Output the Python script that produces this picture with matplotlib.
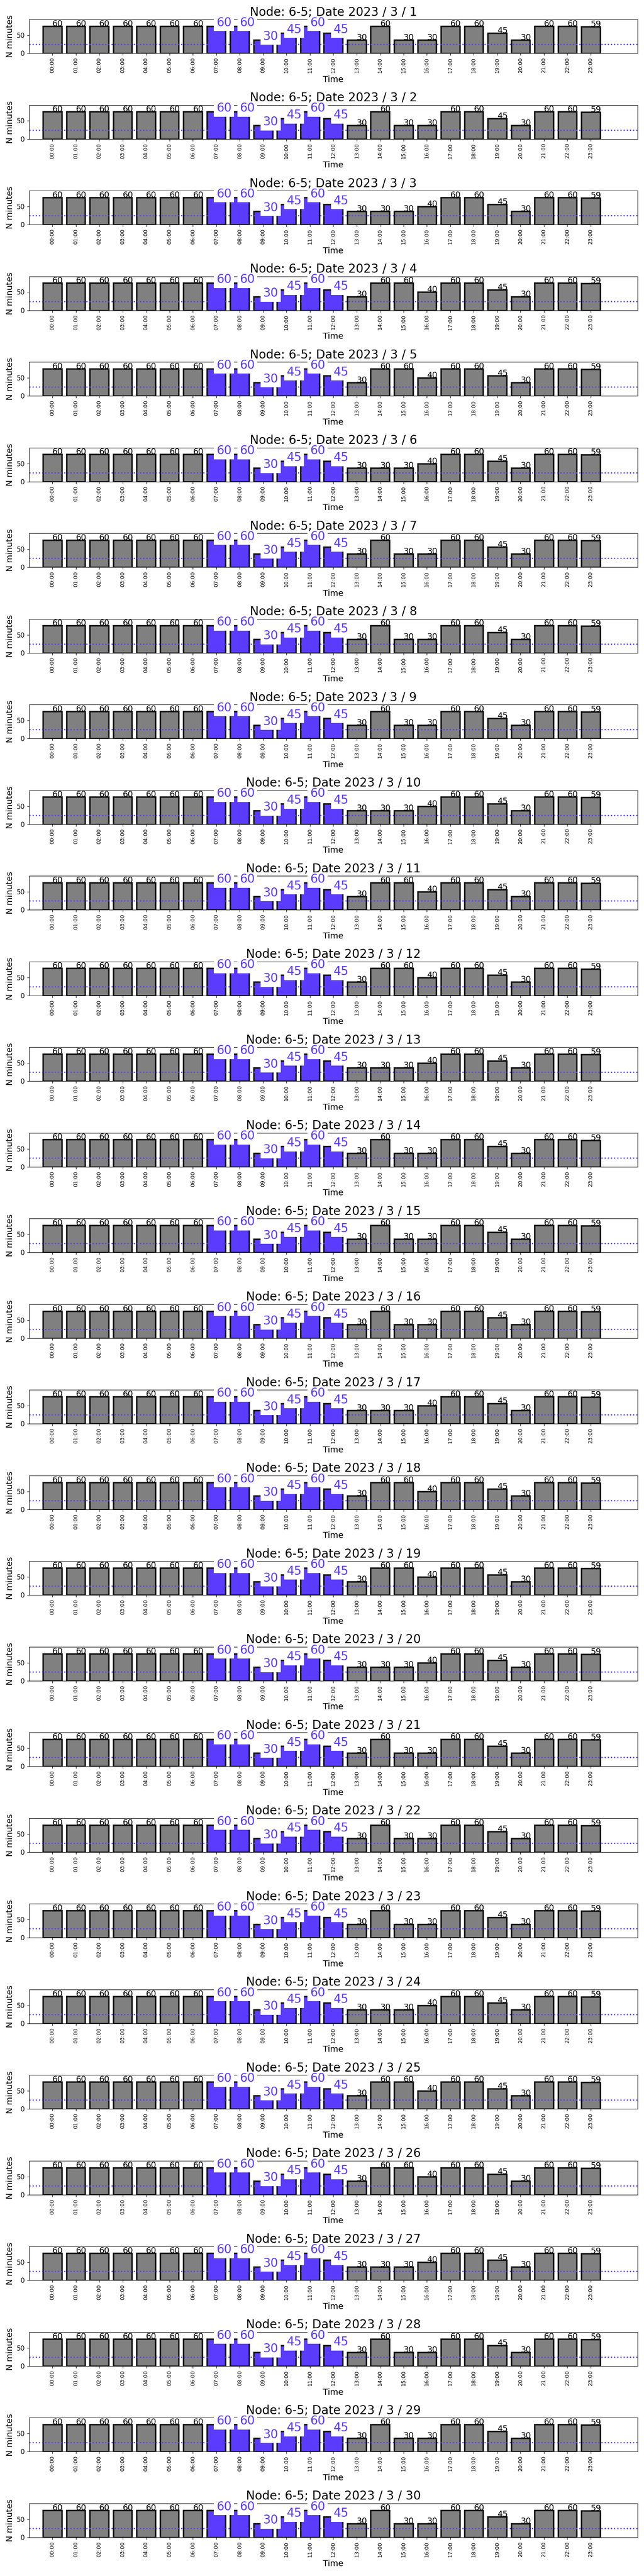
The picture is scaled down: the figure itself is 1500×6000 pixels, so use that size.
import numpy as np
import matplotlib.pyplot as plt

# hourly labels and days
hours = ["00:00", "01:00", "02:00", "03:00", "04:00", "05:00", "06:00", "07:00",
         "08:00", "09:00", "10:00", "11:00", "12:00", "13:00", "14:00", "15:00",
         "16:00", "17:00", "18:00", "19:00", "20:00", "21:00", "22:00", "23:00"]
days = list(range(1, 31))

# minutes per hour, 00:00 - 12:00 (same every day)
morning = [60, 60, 60, 60, 60, 60, 60, 60, 60, 30, 45, 60, 45]
# 13:00 - 16:00 changes with the day
afternoon = {
    "A": [30, 60, 30, 30],
    "B": [30, 30, 30, 40],
    "C": [30, 60, 60, 40],
}
# 17:00 - 23:00
evening = [60, 60, 45, 30, 60, 60, 59]
day_pattern = "AABCCBAAABCCBAAABCCBAAABCCBAAA"

highlight_hours = [7, 8, 9, 10, 11, 12]
threshold = 20
scale = 1.25

blue = "#5b3cff"

fig, axes = plt.subplots(30, 1, figsize=(15, 60), dpi=100)
fig.subplots_adjust(left=0.045, right=0.99, top=0.9925, bottom=0.015, hspace=1.52)

x = np.arange(24)
for ax, day, pat in zip(axes, days, day_pattern):
    minutes = morning + afternoon[pat] + evening
    colors = [blue if h in highlight_hours else "gray" for h in x]
    ax.bar(x, np.array(minutes) * scale, width=0.8, color=colors,
           edgecolor="#111111", linewidth=2.5)
    ax.axhline(threshold * scale, color=blue, linestyle=":", linewidth=2)
    for xi, m in zip(x, minutes):
        if xi in highlight_hours:
            ax.text(xi, m * scale, str(m), color=blue, fontsize=20,
                    bbox=dict(facecolor="white", edgecolor="none"))
        else:
            ax.text(xi, m * scale, str(m), fontsize=14)
    ax.set_xlim(-1, 25)
    ax.set_ylim(0, 60 * scale * scale)
    ax.set_yticks([0, 50])
    ax.tick_params(axis="y", labelsize=11)
    ax.set_xticks(x)
    ax.set_xticklabels(hours, rotation=90, fontsize=9)
    ax.set_title(f"Node: 6-5; Date 2023 / 3 / {day}", fontsize=20)
    ax.set_xlabel("Time", fontsize=14)
    ax.set_ylabel("N minutes", fontsize=14)

plt.savefig("out.png")
